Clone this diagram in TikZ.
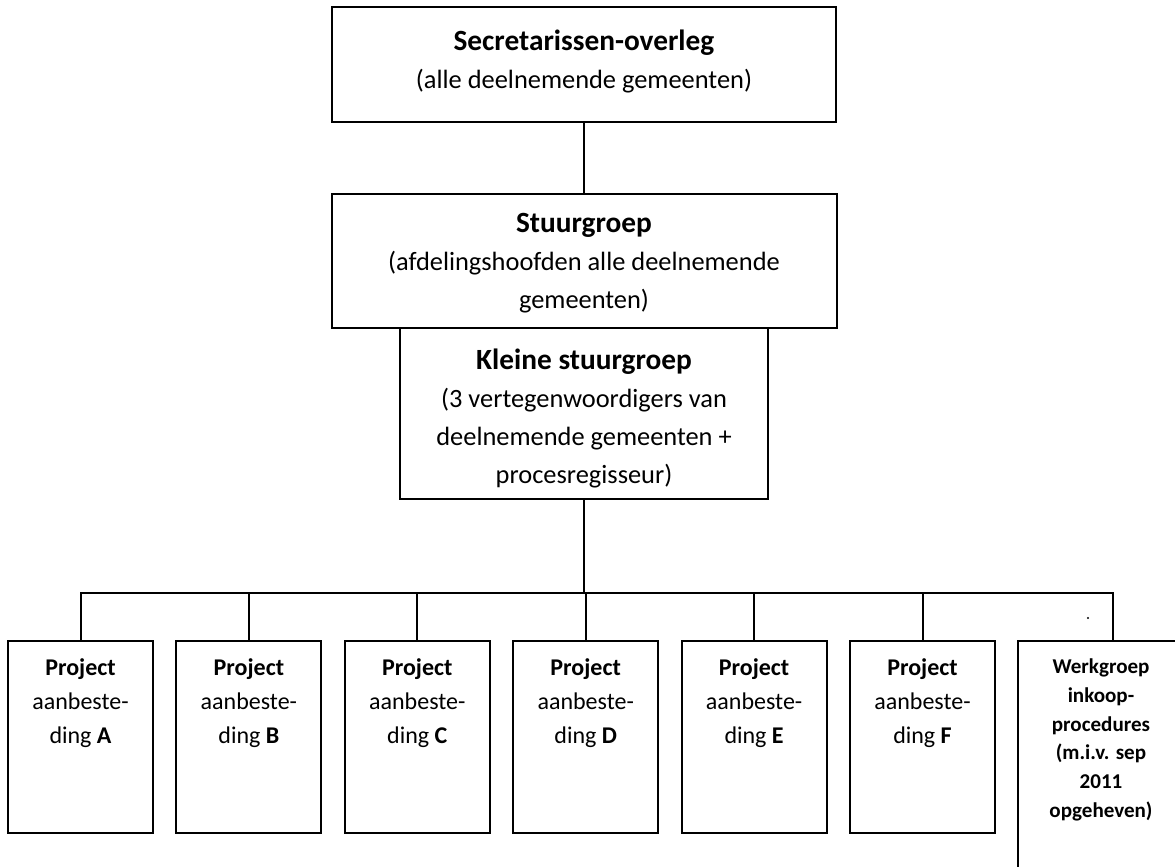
\documentclass[tikz,border=0pt]{standalone}
\usepackage{fontspec}
\setmainfont{Carlito}
\usetikzlibrary{positioning}
\tikzstyle{orgbox}=[draw, line width=1.5pt, inner sep=0pt, outer sep=0pt]
\tikzstyle{topbox}=[orgbox, font=\fontsize{19.8}{28.5}\selectfont]
\tikzstyle{projbox}=[orgbox, font=\fontsize{18}{25.5}\selectfont]
\tikzstyle{workbox}=[orgbox, font=\fontsize{15.8}{21.5}\selectfont\bfseries]
\tikzstyle{link}=[line width=1.5pt]
\newcommand{\boxtext}[4]{\parbox[t][#2][t]{#1}{\centering\vspace*{#3}\strut#4}}
\newcommand{\titlefont}{\fontsize{22}{28.5}\selectfont\bfseries}

\begin{document}
\begin{tikzpicture}[x=0.75pt, y=-0.75pt]
  \useasboundingbox (0,0) rectangle (1175,867);
  \clip (0,0) rectangle (1175,867);
  \node[topbox, anchor=north] (sec) at (584,7) {\boxtext{378pt}{86.25pt}{13pt}{{\titlefont Secretarissen-overleg}\\(alle deelnemende gemeenten)}};
  \node[topbox] (stuur) [below=54pt of sec] {\boxtext{378.75pt}{100.5pt}{9pt}{{\titlefont Stuurgroep}\\(afdelingshoofden alle deelnemende\\gemeenten)}};
  \node[topbox] (klein) [below=0pt of stuur] {\boxtext{276pt}{128.25pt}{11pt}{{\titlefont Kleine stuurgroep}\\(3 vertegenwoordigers van\\deelnemende gemeenten +\\procesregisseur)}};
  \node[projbox, anchor=north west] (pA) at (8,641) {\boxtext{108.75pt}{144pt}{7.8pt}{\textbf{Project}\\aanbeste-\\ding \textbf{A}}};
  \node[projbox] (pB) [right=17.55pt of pA] {\boxtext{108.75pt}{144pt}{7.8pt}{\textbf{Project}\\aanbeste-\\ding \textbf{B}}};
  \node[projbox] (pC) [right=17.55pt of pB] {\boxtext{108.75pt}{144pt}{7.8pt}{\textbf{Project}\\aanbeste-\\ding \textbf{C}}};
  \node[projbox] (pD) [right=17.55pt of pC] {\boxtext{108.75pt}{144pt}{7.8pt}{\textbf{Project}\\aanbeste-\\ding \textbf{D}}};
  \node[projbox] (pE) [right=17.55pt of pD] {\boxtext{108.75pt}{144pt}{7.8pt}{\textbf{Project}\\aanbeste-\\ding \textbf{E}}};
  \node[projbox] (pF) [right=17.55pt of pE] {\boxtext{108.75pt}{144pt}{7.8pt}{\textbf{Project}\\aanbeste-\\ding \textbf{F}}};
  \node[workbox] (werk) [right=17.25pt of pF.north east, anchor=north west] {\boxtext{124.5pt}{180pt}{9.5pt}{Werkgroep\\inkoop-\\procedures\\(m.i.v. sep\\2011\\opgeheven)}};
  \coordinate (bar) at (584,593);
  \coordinate (wstem) at (1113,641);
  \draw[link] (sec) -- (stuur);
  \draw[link] (klein) -- (klein |- bar);
  \draw[link] (pA.north) |- (bar) -| (wstem);
  \foreach \p in {pB,pC,pD,pE,pF}
    \draw[link] (\p.north) -- (\p.north |- bar);
  \fill (1088,618) circle (1.2);
\end{tikzpicture}
\end{document}
